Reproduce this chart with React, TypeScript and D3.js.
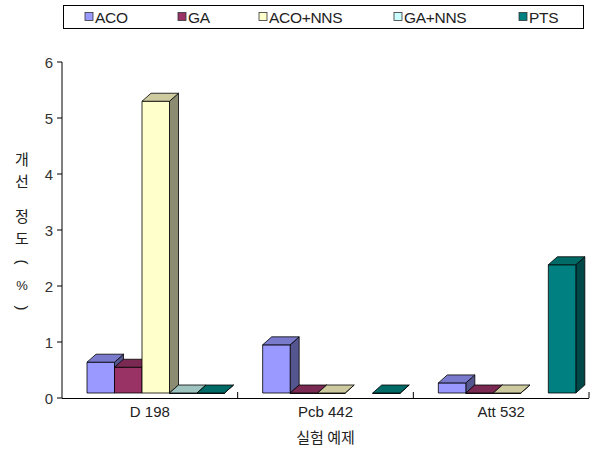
import React from "react";
import * as d3 from "d3";

// Categories (test instances) and series
const categories = ["D 198", "Pcb 442", "Att 532"];
const seriesNames = ["ACO", "GA", "ACO+NNS", "GA+NNS", "PTS"];

// Improvement (%) per series, one entry per category; null = no bar
const acoValues: (number | null)[] = [0.55, 0.86, 0.18];
const gaValues: (number | null)[] = [0.46, 0, 0];
const acoNnsValues: (number | null)[] = [5.21, 0, 0];
const gaNnsValues: (number | null)[] = [0, null, null];
const ptsValues: (number | null)[] = [0, 0, 2.29];

const yTicks = [0, 1, 2, 3, 4, 5, 6];

// Face colours: front, top, side
const palette = [
  { front: "#9999FF", top: "#7a7acc", side: "#55558f" },
  { front: "#993366", top: "#7a2952", side: "#5a1e3c" },
  { front: "#FFFFCC", top: "#cdcaa0", side: "#8c8c72" },
  { front: "#CCFFFF", top: "#9fc4c0", side: "#7a9999" },
  { front: "#008080", top: "#006a66", side: "#004848" },
];

const W = 592;
const H = 450;
const left = 62;
const right = 589;
const yTop = 62;
const yBottom = 398;
const depthX = 9;
const depthY = 8;
const frontShiftY = 5;

const latin = "'Liberation Sans', Arial, sans-serif";
const korean = "'Noto Sans CJK KR', 'Noto Sans', sans-serif";

export default function App() {
  const seriesValues = [acoValues, gaValues, acoNnsValues, gaNnsValues, ptsValues];

  const y = d3.scaleLinear().domain([0, 6]).range([yBottom, yTop]);
  const x0 = d3.scaleBand<string>().domain(categories).range([left, right]);
  const bw = x0.bandwidth();
  const x1 = d3
    .scaleBand<string>()
    .domain(seriesNames)
    .range([25, 25 + 137.5]);

  const bars: React.ReactNode[] = [];
  categories.forEach((cat, ci) => {
    seriesNames.forEach((s, si) => {
      const v = seriesValues[si][ci];
      if (v === null || v === undefined) return;
      const c = palette[si];
      const x = (x0(cat) as number) + (x1(s) as number);
      const w = x1.bandwidth();
      const yb = y(0) - frontShiftY;
      const yt = y(v) - frontShiftY;
      const top = `M${x},${yt} L${x + w},${yt} L${x + w + depthX},${yt - depthY} L${x + depthX},${yt - depthY} Z`;
      const side = `M${x + w},${yt} L${x + w + depthX},${yt - depthY} L${x + w + depthX},${yb - depthY} L${x + w},${yb} Z`;
      bars.push(
        <g key={`${ci}-${si}`} stroke="#000" strokeWidth={0.8} strokeLinejoin="round">
          <path d={side} fill={c.side} />
          <rect x={x} y={yt} width={w} height={Math.max(yb - yt, 0.5)} fill={c.front} />
          <path d={top} fill={c.top} />
        </g>
      );
    });
  });

  const legendItems = [
    { name: "ACO", x: 85 },
    { name: "GA", x: 178 },
    { name: "ACO+NNS", x: 259 },
    { name: "GA+NNS", x: 394 },
    { name: "PTS", x: 519 },
  ];

  const yTitle = [
    { t: "개", y: 158 },
    { t: "선", y: 180 },
    { t: "정", y: 215 },
    { t: "도", y: 237 },
    { t: "(", y: 262, rot: true },
    { t: "%", y: 285 },
    { t: ")", y: 308, rot: true },
  ];

  return (
    <svg width={W} height={H} style={{ position: "absolute", left: 0, top: 0, background: "#fff" }}>
      {/* legend */}
      <rect x={63.5} y={5.5} width={520} height={23} fill="#fff" stroke="#000" strokeWidth={1} />
      {legendItems.map((it, i) => (
        <g key={it.name}>
          <rect x={it.x} y={12.5} width={8} height={8} fill={palette[i].front} stroke="#333" strokeWidth={0.8} />
          <text x={it.x + 10} y={22.5} fontFamily={latin} fontSize={15.5} fill="#222" letterSpacing={-0.3}>
            {it.name}
          </text>
        </g>
      ))}

      {/* value axis */}
      <line x1={left} x2={left} y1={yTop} y2={yBottom} stroke="#000" strokeWidth={1} />
      {yTicks.map((t) => (
        <g key={t}>
          <line x1={left - 5} x2={left} y1={y(t)} y2={y(t)} stroke="#000" />
          <text x={left - 9} y={y(t) + 5.5} textAnchor="end" fontFamily={latin} fontSize={15} fill="#333">
            {t}
          </text>
        </g>
      ))}

      {/* category axis */}
      <line x1={left} x2={right} y1={yBottom + 0.5} y2={yBottom + 0.5} stroke="#000" />
      {categories.map((c, i) => (
        <g key={c}>
          <line
            x1={(x0(c) as number) + bw}
            x2={(x0(c) as number) + bw}
            y1={yBottom - 6}
            y2={yBottom}
            stroke="#000"
          />
          <text
            x={(x0(c) as number) + bw / 2}
            y={417}
            textAnchor="middle"
            fontFamily={latin}
            fontSize={15}
            fill="#222"
          >
            {c}
          </text>
        </g>
      ))}

      {bars}

      {/* axis titles */}
      <text x={(left + right) / 2} y={443} textAnchor="middle" fontFamily={korean} fontSize={15} fill="#222">
        실험 예제
      </text>
      {yTitle.map((c, i) =>
        c.rot ? (
          <text
            key={i}
            x={0}
            y={0}
            transform={`translate(22,${c.y}) rotate(90)`}
            textAnchor="middle"
            dominantBaseline="central"
            fontFamily={latin}
            fontSize={15}
            fill="#222"
          >
            {c.t}
          </text>
        ) : (
          <text
            key={i}
            x={22}
            y={c.y}
            textAnchor="middle"
            dominantBaseline="central"
            fontFamily={c.t === "%" ? latin : korean}
            fontSize={c.t === "%" ? 13 : 15}
            fill="#222"
          >
            {c.t}
          </text>
        )
      )}
    </svg>
  );
}
